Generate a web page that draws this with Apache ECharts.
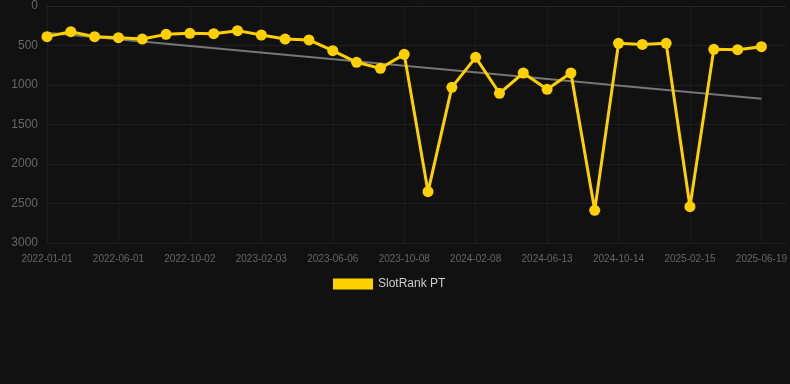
<!DOCTYPE html>
<html>
<head>
<meta charset="utf-8">
<script src="https://cdn.jsdelivr.net/npm/echarts@6/dist/echarts.min.js"></script>
<style>
html,body{margin:0;padding:0;background:#111111;}
#c{width:790px;height:384px;}
</style>
</head>
<body>
<div id="c"></div>
<script>
const categories = [
  '2022-01-01','2022-02-20','2022-04-11','2022-06-01','2022-07-12','2022-08-22',
  '2022-10-02','2022-11-13','2022-12-24','2023-02-03','2023-03-16','2023-04-26',
  '2023-06-06','2023-07-17','2023-08-27','2023-10-08','2023-11-18','2023-12-29',
  '2024-02-08','2024-03-20','2024-05-01','2024-06-13','2024-07-24','2024-09-03',
  '2024-10-14','2024-11-24','2025-01-04','2025-02-15','2025-03-28','2025-05-08',
  '2025-06-19',''
];
const rankValues = [
  388, 325, 388, 401, 418, 359, 346, 350, 312, 367, 418, 430,
  565, 713, 789, 612, 2350, 1030, 650, 1105, 848, 1055, 848, 2586,
  473, 486, 473, 2540, 549, 553, 515
];
const trendIndex = [0, 30];
const trendValues = [338, 1173];
const yTicks = { min: 0, max: 3000, interval: 500 };

const chart = echarts.init(document.getElementById('c'));
chart.setOption({
  backgroundColor: '#111111',
  animation: false,
  grid: { left: 47, right: 4, top: 6, bottom: 141 },
  legend: {
    data: ['SlotRank PT'],
    top: 273,
    left: 328,
    itemWidth: 40,
    itemHeight: 11,
    icon: 'rect',
    textStyle: { color: '#cccccc', fontSize: 12 }
  },
  xAxis: {
    type: 'category',
    data: categories,
    boundaryGap: false,
    axisLine: { show: true, lineStyle: { color: '#262626' } },
    axisTick: { show: false },
    axisLabel: { interval: 2, color: '#666666', fontSize: 10, margin: 11 },
    splitLine: { show: true, interval: 2, lineStyle: { color: '#1c1c1c' } }
  },
  yAxis: {
    type: 'value',
    inverse: true,
    min: yTicks.min, max: yTicks.max, interval: yTicks.interval,
    axisLine: { show: false },
    axisTick: { show: false },
    axisLabel: { color: '#666666', fontSize: 12, margin: 9, formatter: (v) => String(v) },
    splitLine: { lineStyle: { color: '#1e1e1e' } }
  },
  series: [
    {
      name: 'Trend',
      type: 'line',
      data: trendIndex.map((i, k) => [i, trendValues[k]]),
      symbol: 'none',
      lineStyle: { color: '#888888', width: 2, opacity: 0.85 },
      z: 1,
      silent: true
    },
    {
      name: 'SlotRank PT',
      type: 'line',
      data: rankValues,
      symbol: 'circle',
      symbolSize: 11,
      itemStyle: { color: '#ffd000' },
      lineStyle: { color: '#ffd000', width: 3 },
      z: 2
    }
  ]
});
</script>
</body>
</html>
